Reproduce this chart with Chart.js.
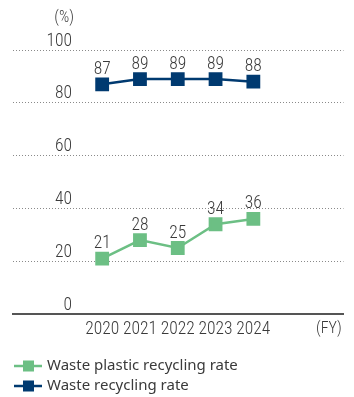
<!DOCTYPE html>
<html>
<head>
<meta charset="utf-8">
<script src="https://cdn.jsdelivr.net/npm/chart.js@4/dist/chart.umd.min.js"></script>
<style>
  html, body { margin: 0; padding: 0; background: #fff; }
  #wrap { width: 354px; height: 397px; position: relative; }
</style>
</head>
<body>
<div id="wrap"><canvas id="chart" width="354" height="397"></canvas></div>
<script>
// data
const years = [2020, 2021, 2022, 2023, 2024];
const plasticRate = [21, 28, 25, 34, 36];
const wasteRate = [87, 89, 89, 89, 88];
const yTicks = [0, 20, 40, 60, 80, 100];
const seriesNames = ['Waste plastic recycling rate', 'Waste recycling rate'];
const unitY = '(%)';
const unitX = '(FY)';

const GREEN = '#6cbf84';
const NAVY = '#003a70';
const TEXT = '#3a3a3a';
const NUMFONT = '"Roboto Condensed", "Noto Sans", sans-serif';
const FONT = '"Noto Sans", sans-serif';

// 값 라벨 + y축 라벨 + 범례
const drawExtras = {
  id: 'drawExtras',
  afterDatasetsDraw(chart) {
    const ctx = chart.ctx;
    const y = chart.scales.y;
    ctx.save();
    ctx.fillStyle = TEXT;
    ctx.font = '300 17.5px ' + NUMFONT;
    ctx.textAlign = 'right';
    ctx.textBaseline = 'alphabetic';
    yTicks.forEach(v => {
      ctx.fillText(String(v), 72, y.getPixelForValue(v) - 4.5);
    });
    ctx.font = '300 16px ' + NUMFONT;
    ctx.fillText(unitY, 74, 22);

    // point labels
    ctx.font = '300 17.5px ' + NUMFONT;
    ctx.textAlign = 'center';
    chart.data.datasets.forEach((ds, i) => {
      chart.getDatasetMeta(i).data.forEach((pt, j) => {
        ctx.fillText(String(ds.data[j].y), pt.x, pt.y - 10.5);
      });
    });

    // legend
    ctx.textBaseline = 'middle';
    chart.data.datasets.forEach((ds, i) => {
      const ly = 366 + i * 20;
      ctx.strokeStyle = ds.borderColor;
      ctx.lineWidth = 2.5;
      ctx.beginPath();
      ctx.moveTo(14, ly);
      ctx.lineTo(42, ly);
      ctx.stroke();
      ctx.fillStyle = ds.borderColor;
      ctx.fillRect(23, ly - 5.5, 11, 11);
      ctx.fillStyle = TEXT;
      ctx.textAlign = 'left';
      ctx.font = '15px ' + FONT;
      ctx.fillText(ds.label, 47, ly);
    });
    ctx.restore();
  }
};

const makeSeries = (vals) => vals.map((v, i) => ({ x: years[i], y: v }));

new Chart(document.getElementById('chart'), {
  type: 'line',
  data: {
    datasets: [
      {
        label: seriesNames[0],
        data: makeSeries(plasticRate),
        borderColor: GREEN,
        backgroundColor: GREEN,
        borderWidth: 2.5,
        pointStyle: 'rect',
        pointRadius: 8,
        pointHoverRadius: 8,
        tension: 0
      },
      {
        label: seriesNames[1],
        data: makeSeries(wasteRate),
        borderColor: NAVY,
        backgroundColor: NAVY,
        borderWidth: 2.5,
        pointStyle: 'rect',
        pointRadius: 8,
        pointHoverRadius: 8,
        tension: 0
      }
    ]
  },
  options: {
    responsive: false,
    maintainAspectRatio: false,
    animation: false,
    layout: { padding: { top: 50, left: 0, right: 0, bottom: 0 } },
    plugins: { legend: { display: false }, tooltip: { enabled: false } },
    scales: {
      x: {
        type: 'linear',
        min: 2017.641,
        max: 2026.385,
        afterBuildTicks: (s) => { s.ticks = years.concat([2026]).map(v => ({ value: v })); },
        afterFit: (s) => { s.height = 83; },
        grid: { display: false, drawTicks: false },
        border: { display: true, color: '#555', width: 2 },
        ticks: {
          autoSkip: false,
          maxRotation: 0,
          padding: 5,
          color: TEXT,
          font: (c) => ({ family: NUMFONT, weight: 300, size: c.tick && c.tick.value === 2026 ? 16 : 17.5 }),
          callback: (v) => v === 2026 ? unitX : String(v)
        }
      },
      y: {
        min: 0,
        max: 100,
        afterBuildTicks: (s) => { s.ticks = yTicks.map(v => ({ value: v })); },
        afterFit: (s) => { s.width = 13; },
        ticks: { display: false },
        grid: {
          drawTicks: false,
          color: (c) => c.tick && c.tick.value === 0 ? 'rgba(0,0,0,0)' : '#8a8a8a',
          lineWidth: 1
        },
        border: { display: false, dash: [1, 2] }
      }
    }
  },
  plugins: [drawExtras]
});
</script>
</body>
</html>
